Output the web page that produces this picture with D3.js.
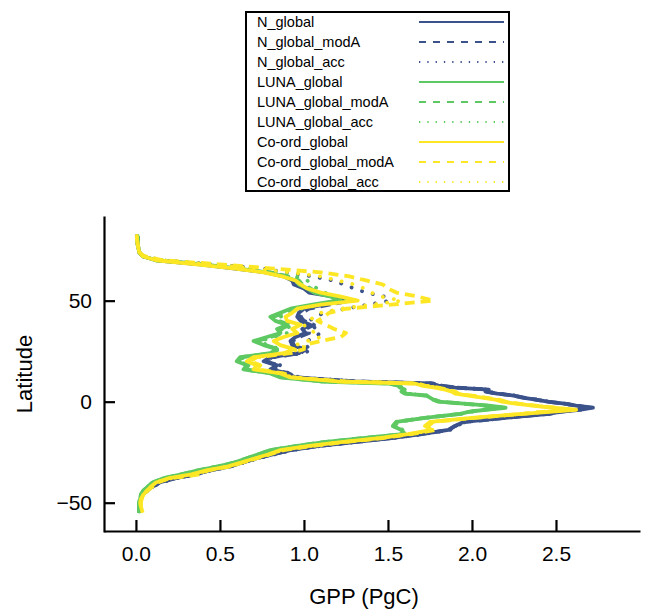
<!DOCTYPE html>
<html>
<head>
<meta charset="utf-8">
<script src="https://cdn.jsdelivr.net/npm/d3@7"></script>
<style>
  body { margin: 0; background: #fff; }
  svg { font-family: "Liberation Sans", Arial, sans-serif; }
</style>
</head>
<body>
<svg id="chart" width="653" height="611"></svg>
<script>
// latitude bins shared by every series
var lat = [82,78,74,72,70,68,66,64,62,60,58,56,54,52,50,48,46,44,42,40,38,36,34,32,30,28,26,24,22,20,18,16,14,12,
  10,9,8,7,6,5,4,3,2,1,0,-1,-2,-3,-4,-5,-6,
  -8,-10,-12,-14,-16,-18,-20,-22,-24,-26,-28,-30,-32,-34,-36,-38,-40,-42,-44,-46,-48,-50,-52,-55];

var N_global = [0.01,0.01,0.02,0.04,0.12,0.38,0.58,0.77,0.88,0.93,0.94,1.0,1.03,1.18,1.24,1.12,1.0,0.97,0.96,0.98,1.04,0.99,1.01,0.95,0.92,0.93,1.0,0.97,0.8,0.76,0.84,0.8,0.9,0.95,
  1.3,1.76,1.8,1.9,2.1,2.08,2.15,2.25,2.3,2.38,2.45,2.55,2.62,2.72,2.64,2.52,2.46,
  2.2,1.95,1.9,1.86,1.7,1.52,1.3,1.08,0.92,0.82,0.72,0.64,0.56,0.44,0.35,0.23,0.14,0.1,0.065,0.04,0.03,0.02,0.02,0.025];
var N_global_modA = [0.01,0.01,0.02,0.04,0.13,0.4,0.6,0.79,0.9,0.96,0.97,1.03,1.06,1.2,1.27,1.15,1.03,0.99,0.98,1.0,1.06,1.01,1.03,0.97,0.93,0.94,1.01,0.98,0.81,0.77,0.85,0.81,0.91,0.96,
  1.31,1.77,1.81,1.9,2.1,2.09,2.15,2.25,2.31,2.38,2.45,2.55,2.62,2.7,2.63,2.52,2.46,
  2.2,1.96,1.9,1.86,1.7,1.52,1.3,1.08,0.92,0.82,0.72,0.64,0.56,0.44,0.35,0.23,0.14,0.1,0.065,0.04,0.03,0.02,0.02,0.025];
var N_global_acc = [0.005,0.01,0.02,0.05,0.15,0.47,0.74,0.9,1.05,1.17,1.24,1.3,1.37,1.48,1.51,1.38,1.25,1.12,1.07,1.03,1.05,1.07,1.1,1.06,1.02,1.0,1.05,1.0,0.82,0.78,0.86,0.82,0.92,0.97,
  1.32,1.77,1.81,1.91,2.1,2.09,2.16,2.26,2.31,2.39,2.46,2.55,2.63,2.71,2.64,2.53,2.47,
  2.21,1.96,1.91,1.87,1.71,1.53,1.31,1.09,0.93,0.83,0.73,0.65,0.57,0.45,0.36,0.24,0.15,0.1,0.07,0.045,0.03,0.02,0.02,0.025];

var LUNA_global = [0.01,0.01,0.02,0.04,0.12,0.4,0.6,0.78,0.88,0.95,0.97,1.02,1.06,1.16,1.2,1.05,0.92,0.86,0.8,0.83,0.9,0.84,0.86,0.78,0.7,0.76,0.84,0.8,0.62,0.6,0.66,0.64,0.8,0.86,
  1.1,1.5,1.56,1.57,1.6,1.58,1.6,1.73,1.75,1.77,1.8,1.95,2.1,2.2,2.08,1.98,1.93,
  1.72,1.55,1.53,1.58,1.6,1.35,1.12,0.95,0.8,0.73,0.66,0.59,0.49,0.37,0.27,0.16,0.1,0.07,0.045,0.03,0.025,0.018,0.018,0.02];
var LUNA_global_modA = [0.01,0.01,0.02,0.04,0.13,0.42,0.62,0.8,0.9,0.97,0.99,1.04,1.08,1.18,1.22,1.07,0.94,0.88,0.82,0.85,0.92,0.86,0.88,0.8,0.72,0.77,0.85,0.81,0.63,0.61,0.67,0.65,0.81,0.87,
  1.11,1.51,1.57,1.58,1.6,1.59,1.61,1.73,1.75,1.77,1.81,1.95,2.09,2.18,2.07,1.98,1.93,
  1.72,1.55,1.53,1.58,1.6,1.35,1.12,0.95,0.8,0.73,0.66,0.59,0.49,0.37,0.27,0.16,0.1,0.07,0.045,0.03,0.025,0.018,0.018,0.02];
var LUNA_global_acc = [0.01,0.01,0.02,0.045,0.14,0.44,0.66,0.84,0.95,1.02,1.04,1.08,1.12,1.2,1.25,1.1,0.98,0.92,0.86,0.88,0.94,0.88,0.9,0.82,0.74,0.78,0.86,0.82,0.64,0.62,0.68,0.66,0.82,0.88,
  1.12,1.52,1.57,1.58,1.61,1.59,1.61,1.74,1.76,1.78,1.81,1.96,2.1,2.19,2.08,1.99,1.94,
  1.73,1.56,1.54,1.59,1.61,1.36,1.13,0.96,0.81,0.74,0.67,0.6,0.5,0.38,0.28,0.17,0.1,0.07,0.045,0.03,0.025,0.018,0.018,0.02];

var Coord_global = [0.005,0.01,0.02,0.04,0.12,0.36,0.58,0.76,0.87,0.95,0.98,1.02,1.1,1.22,1.32,1.1,0.96,0.93,0.89,0.9,0.98,0.93,0.96,0.88,0.82,0.86,0.94,0.88,0.7,0.66,0.72,0.7,0.86,0.92,
  1.2,1.66,1.7,1.78,1.84,1.88,1.9,1.98,2.06,2.14,2.18,2.26,2.36,2.48,2.62,2.46,2.3,
  2.0,1.75,1.72,1.76,1.62,1.45,1.22,1.02,0.86,0.79,0.71,0.63,0.55,0.42,0.33,0.19,0.12,0.09,0.065,0.045,0.03,0.025,0.03,0.04];
var Coord_global_modA = [0.005,0.01,0.02,0.05,0.16,0.5,0.8,1.1,1.27,1.37,1.47,1.5,1.55,1.68,1.77,1.52,1.25,1.15,1.12,1.08,1.13,1.18,1.25,1.22,1.1,1.0,1.0,0.92,0.72,0.68,0.74,0.72,0.88,0.94,
  1.25,1.68,1.72,1.8,1.85,1.9,1.92,2.0,2.08,2.16,2.2,2.28,2.38,2.5,2.58,2.42,2.3,
  2.02,1.77,1.74,1.78,1.64,1.47,1.24,1.04,0.88,0.8,0.72,0.64,0.56,0.43,0.38,0.2,0.13,0.1,0.07,0.05,0.035,0.03,0.03,0.04];
var Coord_global_acc = [0.005,0.01,0.02,0.05,0.14,0.45,0.7,0.92,1.1,1.2,1.3,1.36,1.4,1.46,1.58,1.4,1.22,1.1,1.06,1.03,1.0,1.02,1.07,1.1,1.02,0.95,0.97,0.9,0.71,0.67,0.73,0.71,0.87,0.93,
  1.23,1.67,1.71,1.79,1.85,1.89,1.91,1.99,2.07,2.15,2.19,2.27,2.37,2.49,2.6,2.44,2.3,
  2.01,1.76,1.73,1.77,1.63,1.46,1.23,1.03,0.87,0.8,0.72,0.64,0.56,0.43,0.35,0.2,0.12,0.09,0.065,0.045,0.03,0.025,0.03,0.04];

var seriesNames = ["N_global","N_global_modA","N_global_acc","LUNA_global","LUNA_global_modA","LUNA_global_acc","Co-ord_global","Co-ord_global_modA","Co-ord_global_acc"];
var seriesValues = [N_global,N_global_modA,N_global_acc,LUNA_global,LUNA_global_modA,LUNA_global_acc,Coord_global,Coord_global_modA,Coord_global_acc];
var seriesColors = ["#3b528b","#3b528b","#3b528b","#5ec962","#5ec962","#5ec962","#fde725","#fde725","#fde725"];
var seriesDash = ["solid","dash","dot","solid","dash","dot","solid","dash","dot"];

var xTicks = [0,0.5,1,1.5,2,2.5];
var yTicks = [-50,0,50];

var svg = d3.select("#chart");

var x = d3.scaleLinear().domain([-0.19, 3.0]).range([104, 640]);
var y = d3.scaleLinear().domain([-64.5, 91.9]).range([532, 216]);

// lines
var line = d3.line()
  .x(d => x(d[1]))
  .y(d => y(d[0]));

var plotDash = {solid: null, dash: "10,6", dot: "0.1,11"};
seriesValues.forEach(function(vals, i) {
  var pts = lat.map((l, j) => [l, vals[j]]);
  svg.append("path")
    .datum(pts)
    .attr("d", line)
    .attr("fill", "none")
    .attr("stroke", seriesColors[i])
    .attr("stroke-width", 3.8)
    .attr("stroke-linejoin", "round")
    .attr("stroke-linecap", seriesDash[i] == "dot" ? "round" : "butt")
    .attr("stroke-dasharray", plotDash[seriesDash[i]]);
});

// axes
var yAxis = svg.append("g")
  .attr("transform", "translate(104,0)")
  .call(d3.axisLeft(y).tickValues(yTicks).tickSizeInner(-11).tickSizeOuter(0).tickPadding(12));
var xAxis = svg.append("g")
  .attr("transform", "translate(0,531)")
  .call(d3.axisBottom(x).tickValues(xTicks).tickFormat(d3.format(".1f")).tickSizeInner(-11).tickSizeOuter(0).tickPadding(15));
[yAxis, xAxis].forEach(function(g) {
  g.selectAll("path, line").attr("stroke", "#000").attr("stroke-width", 2.2);
  g.selectAll("text").attr("font-size", 21).attr("fill", "#000")
    .attr("font-family", "Liberation Sans, Arial, sans-serif");
});

svg.append("text")
  .attr("transform", "translate(32,374) rotate(-90)")
  .attr("text-anchor", "middle")
  .attr("font-size", 22)
  .text("Latitude");
svg.append("text")
  .attr("x", 364).attr("y", 604)
  .attr("text-anchor", "middle")
  .attr("font-size", 22)
  .text("GPP (PgC)");

// legend
var leg = svg.append("g");
leg.append("rect")
  .attr("x", 246).attr("y", 12).attr("width", 263).attr("height", 179)
  .attr("fill", "#fff").attr("stroke", "#000").attr("stroke-width", 2);
var legDash = {solid: null, dash: "7,7", dot: "1.3,7"};
seriesNames.forEach(function(name, i) {
  var cy = 22 + i * 20;
  leg.append("text")
    .attr("x", 257).attr("y", cy + 5)
    .attr("font-size", 14.5)
    .text(name);
  leg.append("line")
    .attr("x1", 419).attr("x2", 504).attr("y1", cy).attr("y2", cy)
    .attr("stroke", seriesColors[i])
    .attr("stroke-width", 2)
    .attr("stroke-dasharray", legDash[seriesDash[i]]);
});
</script>
</body>
</html>
